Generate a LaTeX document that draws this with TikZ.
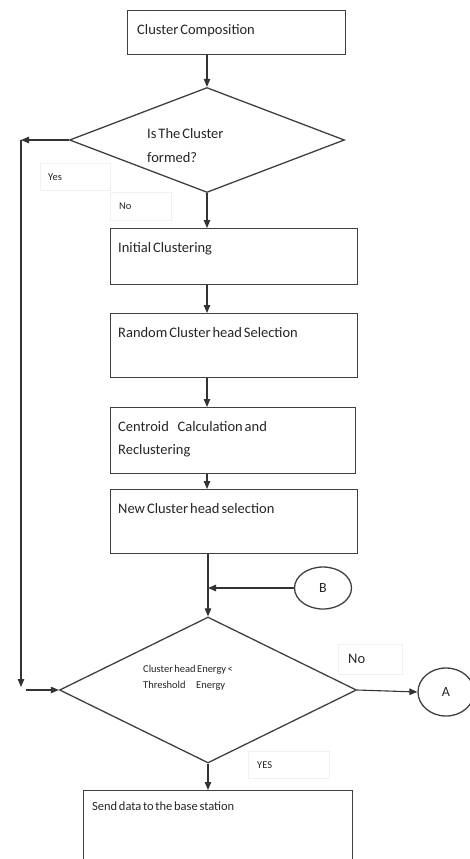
\documentclass[tikz,border=0pt]{standalone}
\usepackage{fontspec}
\setmainfont[WordSpace=0.6]{Carlito}
\usetikzlibrary{arrows.meta,shapes.geometric}
\tikzset{
  box/.style ={draw=black!75, line width=1.3pt, anchor=north west, inner sep=0pt},
  txt/.style ={anchor=base west, inner sep=0pt, xshift=8pt, yshift=-24.5pt, align=left, text=black!85, font=\fontsize{14.5}{22.5}\selectfont},
  dec/.style ={draw=black!75, line width=1.3pt, diamond, inner sep=0pt},
  dtxt/.style={anchor=base west, inner sep=0pt, align=left, text=black!85},
  con/.style ={draw=black!75, line width=1.3pt, ellipse, inner sep=0pt, text=black!85, font=\fontsize{14}{16}\selectfont},
  tag/.style ={draw=black!6, anchor=north west, inner xsep=8pt, inner ysep=0pt, align=left, text=black!85, font=\fontsize{10.5}{12}\selectfont},
  arr/.style ={-{Triangle[length=8pt,width=6.5pt]}, line width=1.1pt, draw=black!80},
}
\begin{document}
\begin{tikzpicture}[x=1pt, y=-1pt]
  \useasboundingbox (0,0) rectangle (470,859);
  \fill[white] (0,0) rectangle (470,859);
  % process boxes
  \node[box, minimum width=218pt, minimum height=44pt, label={[txt, xshift=2pt]north west:Cluster Composition}] (comp) at (127,10) {};
  \node[dec, minimum width=275pt, minimum height=105pt] (isform) at (207,140) {};
  \node[dtxt, font=\fontsize{14.5}{24}\selectfont] (isformT) at ([shift={(-60,22)}]isform.center) {Is The Cluster\\formed?};
  \node[box, minimum width=247pt, minimum height=56pt, label={[txt]north west:Initial Clustering}] (init) at (110,228) {};
  \node[box, minimum width=247pt, minimum height=64pt, label={[txt]north west:Random Cluster head Selection}] (rand) at (110,313) {};
  \node[box, minimum width=245pt, minimum height=66pt, label={[txt, yshift=-22.5pt]north west:Centroid\hspace{0.6em}Calculation and\\Reclustering}] (cent) at (110,407) {};
  \node[box, minimum width=247pt, minimum height=64pt, label={[txt]north west:New Cluster head selection}] (newch) at (110,489) {};
  \node[dec, minimum width=297pt, minimum height=146pt] (chk) at (208,690) {};
  \node[dtxt, font=\fontsize{10.5}{16}\selectfont] (chkT) at ([shift={(-65,-2)}]chk.center) {Cluster head Energy <\\Threshold\hspace{1em}Energy};
  \node[box, minimum width=269pt, minimum height=90pt, label={[txt, xshift=1pt, yshift=4pt, font=\fontsize{12.5}{15}\selectfont]north west:Send data to the base station}] (send) at (83,790) {};
  % connectors
  \node[con, minimum width=57pt, minimum height=42pt] (B) at (323,588) {B};
  \node[con, minimum width=56pt, minimum height=48pt] (A) at (446,692) {A};
  % answer tags
  \node[tag, minimum width=70pt, minimum height=27pt, text width=54pt] (yesT) at (40,163) {Yes};
  \node[tag, minimum width=60pt, minimum height=28pt, text width=43pt, inner xsep=9pt] (noT) at (110,192) {No};
  \node[tag, minimum width=64pt, minimum height=30pt, text width=44pt, inner xsep=10pt, font=\fontsize{14.5}{16}\selectfont] (noA) at (338,644) {No};
  \node[tag, minimum width=80pt, minimum height=27pt, text width=63pt, inner xsep=9pt] (yesB) at (248,751) {YES};
  \coordinate (ytop) at (21,140);
  \coordinate (ybot) at (21,687);
  \coordinate (yin) at (26,690);
  % arrows
  \draw[arr] (comp.south -| isform.north) -- (isform.north);
  \draw[arr] (isform.south) -- (isform.south |- init.north);
  \draw[arr] (init.south -| isform.south) -- (rand.north -| isform.south);
  \draw[arr] (rand.south -| isform.south) -- (cent.north -| isform.south);
  \draw[arr] (cent.south -| isform.south) -- (newch.north -| isform.south);
  \draw[arr] (newch.south -| chk.north) -- (chk.north);
  \draw[arr] (B.west) -- (B.west -| chk.north);
  \draw[arr] (isform.west) -- (ytop);
  \draw[arr] (ytop) -- (ybot);
  \draw[arr] (yin) -- (chk.west);
  \draw[arr] (chk.east) -- (A.west);
  \draw[arr] (chk.south) -- (chk.south |- send.north);
\end{tikzpicture}
\end{document}
